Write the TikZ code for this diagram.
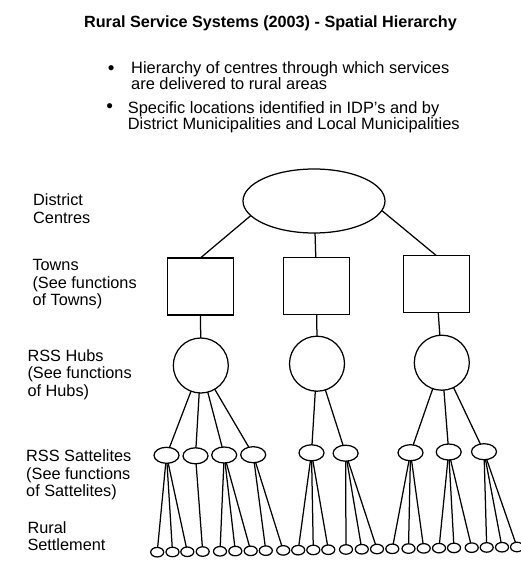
\documentclass[tikz,border=0pt]{standalone}
\usepackage{fontspec}
\setmainfont{Liberation Sans}
\usetikzlibrary{shapes.geometric}
\begin{document}
\begin{tikzpicture}[x=1pt,y=-1pt,
  conn/.style={line width=1.25pt},
  shp/.style={draw, line width=1.25pt, inner sep=0pt, outer sep=0pt},
  district/.style={shp, ellipse, minimum width=142pt, minimum height=64pt},
  town/.style={shp, rectangle, minimum width=66pt, minimum height=57pt},
  hub/.style={shp, circle, minimum size=55pt},
  sat/.style={shp, ellipse, minimum width=25pt, minimum height=16pt},
  settle/.style={shp, ellipse, minimum width=13pt, minimum height=9.5pt},
  lbl/.style={anchor=north west, align=left, inner sep=0pt, font=\fontsize{16.3}{17.6}\selectfont},
  blt/.style={lbl, font=\fontsize{16.4}{16.2}\selectfont},
  dot/.style={anchor=base, inner sep=0pt, font=\fontsize{19}{19}\selectfont},
  ]
\useasboundingbox (0,0) rectangle (520,561);

% title and bullets
\node[anchor=base, inner sep=0pt, font=\bfseries\fontsize{16.2}{19}\selectfont] (title) at (270.5,28) {Rural Service Systems (2003) - Spatial Hierarchy};
\node[dot] (b1) at (111.2,74.5) {•};
\node[blt] (t1) at (131,61.3) {Hierarchy of centres through which services\\are delivered to rural areas};
\node[dot] (b2) at (109.8,113) {•};
\node[blt] (t2) at (127.7,101.3) {Specific locations identified in IDP's and by\\District Municipalities and Local Municipalities};

% level labels
\node[lbl] (l1) at (33,193.5) {District\\Centres};
\node[lbl] (l2) at (32.3,259) {Towns\\(See functions\\of Towns)};
\node[lbl] (l3) at (27.3,349) {RSS Hubs\\(See functions\\of Hubs)};
\node[lbl] (l4) at (26,449.5) {RSS Sattelites\\(See functions\\of Sattelites)};
\node[lbl] (l5) at (27.3,521) {Rural\\Settlement};

% hierarchy
\node[district] (dc) at (314,201) {};
\node[town] (tw1) at (200.4,286.5) {};
\node[town] (tw2) at (316.7,285.7) {};
\node[town] (tw3) at (436.2,284) {};
\node[hub] (h1) at (200.8,365.5) {};
\node[hub] (h2) at (317,363.7) {};
\node[hub] (h3) at (441.8,362.7) {};

\foreach \x/\y [count=\i] in {166.5/455.3,195.5/455.8,224.2/455,253.2/454.7,311.5/452.8,345.6/453.2,410.5/452.7,448.7/452,484/451.7}
  \node[sat] (s\i) at (\x,\y) {};

\foreach \x [count=\i] in {157.2,172.5,187.3,202.7,220,235.3,250.7,265.8,283.2,298.2,313.3,328.3,346,361.8,377,392.3,408.5,423.7,439,454,471.7,486.7,502,517}{
  \pgfmathsetmacro\yy{552.2-(\x-157)*5.2/360}
  \node[settle] (r\i) at (\x,\yy) {};
}

\draw[conn] (dc.193) -- (tw1.north);
\draw[conn] (dc) -- (tw2);
\draw[conn] (dc.352) -- (tw3.north);
\draw[conn] (tw1) -- (h1);
\draw[conn] (tw2) -- (h2);
\draw[conn] (tw3) -- (h3);
\foreach \h/\s in {1/1,1/2,1/3,1/4,2/5,2/6,3/7,3/8,3/9}
  \draw[conn] (h\h) -- (s\s);
\foreach \s/\r in {1/1,1/2,1/3,2/4,3/5,3/6,3/7,4/8,4/9,5/10,5/11,5/12,6/13,6/14,6/15,7/16,7/17,7/18,8/19,8/20,8/21,9/22,9/23,9/24}
  \draw[conn] (s\s) -- (r\r);
\end{tikzpicture}
\end{document}
